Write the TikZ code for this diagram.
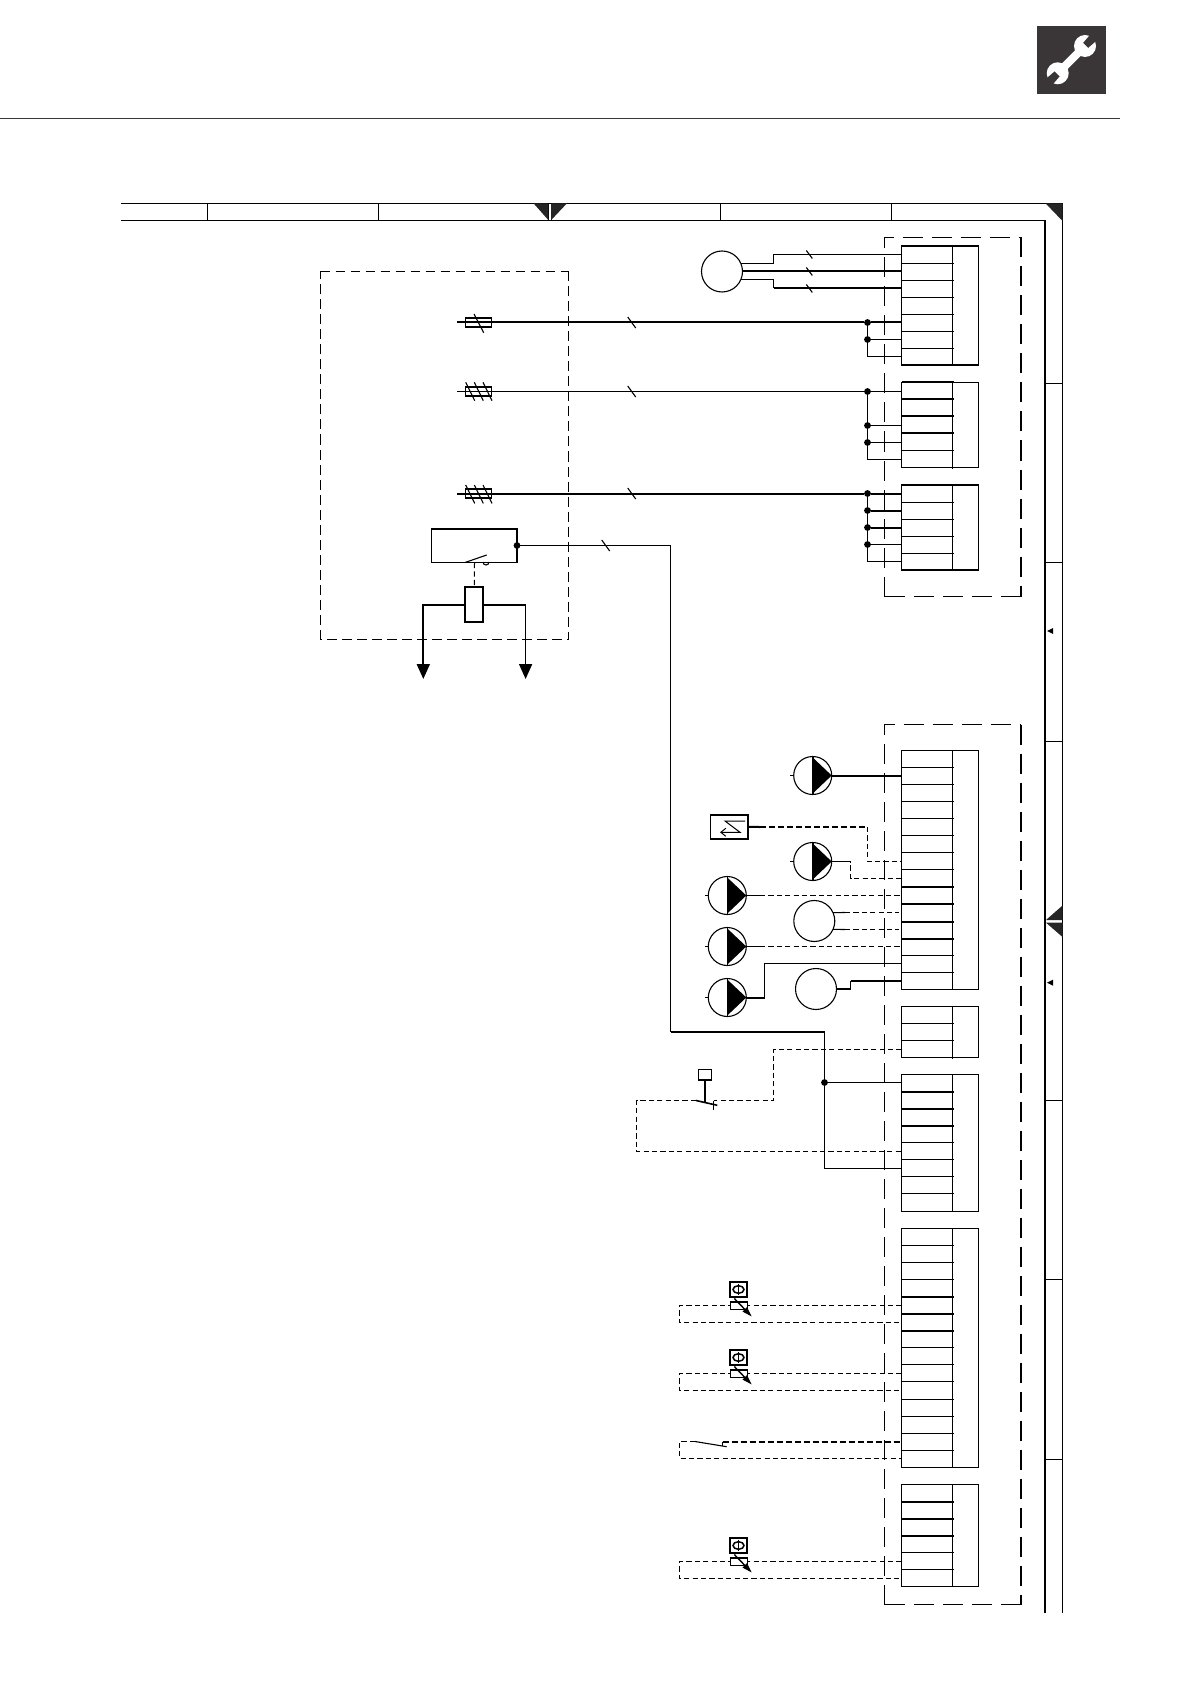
\documentclass[tikz,border=0pt]{standalone}
\usetikzlibrary{arrows.meta,calc}
\definecolor{boxdark}{HTML}{3A3536}
\definecolor{tridark}{HTML}{252525}
\tikzset{
 x=.5pt,y=-.5pt,
 w/.style={line width=.55pt,line join=miter},
 wt/.style={line width=1pt,line join=miter},
 wm/.style={line width=.8pt,line join=miter},
 wd/.style={line width=.5pt,dash pattern=on 2.6pt off 1.6pt},
 wdt/.style={line width=1pt,dash pattern=on 3pt off 1.5pt},
 boxd/.style={line width=.55pt,dash pattern=on 10pt off 4.5pt},
 boxdt/.style={line width=1pt,dash pattern=on 10pt off 4.5pt},
 pumpc/.style={circle,draw,line width=.55pt,minimum size=19pt,inner sep=0pt,outer sep=0pt},
 motorc/.style={circle,draw,line width=.55pt,minimum size=20.5pt,inner sep=0pt,outer sep=0pt},
 dot/.style={circle,fill=black,minimum size=3.4pt,inner sep=0pt,outer sep=0pt},
 rectn/.style={rectangle,draw,line width=.55pt,inner sep=0pt,outer sep=0pt,fill=white},
 slash/.style={line width=.55pt},
 gnd/.style={-{Triangle[width=6.5pt,length=7.5pt]}},
 blockbox/.style={rectangle,draw,line width=.55pt,inner sep=0pt,outer sep=0pt,anchor=north west},
}
% name, top, rows
\newcommand\tblock[3]{%
 \pgfmathsetmacro\tbh{round(#3*17.07)}%
 \node[blockbox,minimum width=38.5pt,minimum height=\tbh*.5pt] (#1) at (901.5,#2) {};
 \draw[line width=.55pt] (952.5,#2) -- (952.5,{#2+\tbh+1});
 \pgfmathtruncatemacro\tblast{#3-1}%
 \foreach \k in {1,...,\tblast} \draw[line width=.55pt] (901.5,{floor(#2+\k*17.07)+.5}) -- (954,{floor(#2+\k*17.07)+.5});
 \foreach \k in {1,...,#3} \coordinate (#1-\k) at (901.5,{floor(#2+(\k-.5)*17.07)+.5});
}
\newcommand\tthick[2]{\foreach \k in {#2} \draw[line width=1pt] (901.5,{floor(#1+\k*17.07)+.5}) -- (954,{floor(#1+\k*17.07)+.5});}
% pump: name, cx, cy
\newcommand\pump[3]{%
 \node[pumpc] (#1) at (#2,#3) {};
 \fill[black] ($(#1.center)+(.5,-17.5)$) -- (#1.east) -- ($(#1.center)+(.5,17.5)$) -- cycle;
 \draw[line width=.8pt] (#1.north) -- (#1.south);
 \coordinate (#1s) at ($(#1.west)+(-3.5,0)$);
 \draw[wm] (#1s) -- (#1.west);
}
% slash across a wire: centre x,y
\newcommand\wslash[2]{\draw[slash] ({#1-4},{#2-5.5}) -- ({#1+4},{#2+5.5});}
\newcommand\sslash[2]{\draw[slash] ({#1-3},{#2-4}) -- ({#1+3},{#2+4});}
% temperature sensor: name, y1, pin1, pin2
\newcommand\tsens[4]{%
 \coordinate (#1l) at (679.5,#2);
 \draw[wd] (#3) -- (#1l) |- (#4);
 \node[rectn,minimum width=8.7pt,minimum height=3.7pt,line width=.7pt] (#1r) at (739,#2) {};
 \node[rectn,minimum width=8.2pt,minimum height=7.8pt,line width=.9pt] (#1q) at (738.5,{#2-16}) {};
 \draw[line width=.75pt] (#1q) ellipse [x radius=5.5,y radius=3.8];
 \draw[line width=.75pt] ($(#1q)+(0,-5.5)$) -- ($(#1q)+(0,5.5)$);
 \draw[line width=.7pt,-{Triangle[width=3pt,length=5pt]}] (734.3,{#2-7}) -- (751.7,{#2+11});
}
\begin{document}
\begin{tikzpicture}
\useasboundingbox (0,0) rectangle (1191,1684);
\fill[white] (0,0) rectangle (1191,1684);

% header rule and tool icon
\draw[line width=.55pt,color=boxdark] (0,118.5) -- (1120,118.5);
\fill[boxdark] (1037,26) rectangle (1106,93.7);
\draw[white,line width=4pt] (1085,46) -- (1057.7,73.3);
\fill[white] (1085,46) circle [radius=11];
\fill[white] (1057.7,73.3) circle [radius=11];
\fill[boxdark] (1088.2,47.8) -- (1083.2,42.8) -- (1091.7,32.9) -- (1098.1,39.3) -- cycle;
\fill[boxdark] (1054.5,71.5) -- (1059.5,76.5) -- (1051,86.4) -- (1044.6,80) -- cycle;

% frame
\draw[w] (121,203.5) -- (1062.5,203.5) -- (1062.5,1613.3);
\draw[line width=.7pt] (121,220.5) -- (1045,220.5);
\draw[line width=1.1pt] (1045,220.5) -- (1045,1613.3);
\foreach \x in {207.5,378.5,548.5,551.5,720.5,891.5} \draw[w] (\x,203.5) -- (\x,221.5);
\foreach \y in {383.5,562.5,741.5,1100.5,1279.5,1459.5} \draw[w] (1045,\y) -- (1062.5,\y);
\fill[tridark] (533.5,203.3) -- (548.3,203.3) -- (548.3,220) -- cycle;
\fill[tridark] (551.2,203.3) -- (567,203.3) -- (551.2,220) -- cycle;
\fill[tridark] (1045.5,203.3) -- (1062.5,203.3) -- (1062.5,221) -- cycle;
\fill[tridark] (1046,920) -- (1062.5,905.5) -- (1062.5,920) -- cycle;
\fill[tridark] (1046,922.7) -- (1062.5,922.7) -- (1062.5,937) -- cycle;
\foreach \y in {631,982.7} \fill[black] (1047,\y) -- (1053,{\y-3}) -- (1053,{\y+3}) -- cycle;

% dashed enclosures
\draw[boxd] (884.5,596.5) -- (884.5,237.5) -- (1021,237.5);
\draw[boxdt] (1021,237.5) -- (1021,596.5);
\draw[boxd] (1021,596.5) -- (884.5,596.5);
\draw[boxd] (884.5,1604.5) -- (884.5,724.5) -- (1021,724.5);
\draw[boxdt] (1021,724.5) -- (1021,1604.5);
\draw[boxd] (1021,1604.5) -- (884.5,1604.5);
\draw[line width=.55pt,dash pattern=on 5pt off 2.5pt] (320.5,639.5) -- (320.5,271.5);
\draw[line width=.8pt,dash pattern=on 4.5pt off 3pt] (320.5,271.5) -- (568.5,271.5);
\draw[line width=.55pt,dash pattern=on 5pt off 2.5pt] (568.5,271.5) -- (568.5,639.5) -- (320.5,639.5);

% terminal blocks
\tblock{ba}{246}{7}
\tblock{bb}{382.7}{5} \tthick{382.7}{0,1,2,3}
\tblock{bc}{485}{5}
\tblock{bd}{750.3}{14} \tthick{750.3}{8,9,10,11}
\tblock{be}{1006.5}{3}
\tblock{bf}{1074.3}{8} \tthick{1074.3}{1,2,3}
\tblock{bg}{1228.3}{14} \tthick{1228.3}{4,5,6}
\tblock{bh}{1484.3}{6} \tthick{1484.3}{1,2,3}

% motor at top right
\node[motorc] (ma) at (722,271.5) {};
\coordinate (ma1) at (773.5,254.5);
\coordinate (ma3) at (773.5,288.5);
\draw[w] (ma.24) -| (ma1) -- (ba-1);
\draw[wt] (ma.east) -- (ba-2);
\draw[w] (ma.-24) -| (ma3);
\draw[wt] (ma3) -- (ba-3);
\sslash{809.3}{254.5} \sslash{809.3}{271.5} \sslash{809.3}{288.5}

% supply lines with fuses
\coordinate (fa) at (457,322.5);
\coordinate (fb) at (457,391.5);
\coordinate (fc) at (457,493.5);
\node[dot] (da) at (867.5,322.5) {};
\node[dot] (db) at (867.5,339.5) {};
\coordinate (dc) at (867.5,356.5);
\draw[wt] (fa) -- (da) -- (ba-5);
\draw[w] (da) -- (dc) -- (ba-7);
\draw[w] (db) -- (ba-6);
\node[rectn,fill=none,minimum width=13.2pt,minimum height=4.5pt] (fua) at (478.5,322.5) {};
\draw[slash] (474,314) -- (483.7,332.7);
\wslash{631.7}{322.5}

\node[dot] (dd) at (867.5,391.5) {};
\node[dot] (de) at (867.5,425.5) {};
\node[dot] (df) at (867.5,442.5) {};
\coordinate (dg) at (867.5,459.5);
\draw[w] (fb) -- (dd) -- (bb-1);
\draw[w] (dd) -- (dg) -- (bb-5);
\draw[w] (de) -- (bb-3);
\draw[w] (df) -- (bb-4);
\node[rectn,fill=none,line width=.75pt,minimum width=13.2pt,minimum height=4.5pt] (fub) at (478.5,391.5) {};
\foreach \x in {465.7,474.3,483} \draw[slash] (\x,382.3) -- ({\x+9},400.7);
\wslash{631.7}{391.5}

\node[dot] (dh) at (867.5,493.5) {};
\node[dot] (di) at (867.5,510.5) {};
\node[dot] (dj) at (867.5,527.5) {};
\node[dot] (dk) at (867.5,544.5) {};
\coordinate (dl) at (867.5,561.5);
\draw[wt] (fc) -- (dh) -- (bc-1);
\draw[wt] (di) -- (bc-2);
\draw[wt] (dj) -- (bc-3);
\draw[w] (dk) -- (bc-4);
\draw[w] (dh) -- (dl) -- (bc-5);
\node[rectn,fill=none,minimum width=13.2pt,minimum height=4.5pt] (fuc) at (478.5,493.5) {};
\foreach \x in {465.7,474.3,483} \draw[slash] (\x,485) -- ({\x+9},503.4);
\wslash{631.7}{493.5}

% relay contact and coil
\node[rectn,fill=none,minimum width=42.75pt,minimum height=17pt] (rel) at (474.25,545.5) {};
\draw[wt] (rel.north west) -- (rel.north east) -- (rel.south east);
\node[dot] (rd) at (rel.east) {};
\draw[w] (465,562.5) -- (486.7,555);
\draw[line width=.55pt] (483,562) arc [start angle=180,end angle=0,radius=3];
\node[rectn,line width=1pt,minimum width=9pt,minimum height=17.3pt] (coil) at (474.3,604.7) {};
\draw[wd] (474.5,563) -- (coil.north);
\coordinate (ga) at (423.3,679);
\coordinate (gb) at (525.6,679);
\draw[wt,gnd] (coil.west) -| (ga);
\draw[wm,gnd] (coil.east) -| (gb);

% long feed from relay
\coordinate (ra) at (670.5,545.5);
\coordinate (rb) at (670.5,1032);
\coordinate (rc) at (824.5,1032);
\node[dot] (rj) at (824.5,1082.5) {};
\coordinate (rk) at (824.5,1168.5);
\draw[w] (rd) -- (ra) -- (rb);
\draw[wt] (rb) -- (rc);
\draw[w] (rc) -- (rk) -- (bf-6);
\draw[w] (rj) -- (bf-1);
\wslash{605.7}{545.5}

% pumps and circles
\pump{pa}{812.7}{775.5}
\pump{pb}{812.7}{861.5}
\pump{pc}{727.3}{895.5}
\pump{pd}{727.3}{946.5}
\pump{pe}{727.3}{997.5}
\node[motorc] (cf) at (814.3,921) {};
\node[motorc] (cg) at (816,989) {};

\draw[wt] (pa.east) -- (bd-2);

% remote sensor box
\node[rectn,minimum width=18.85pt,minimum height=12.15pt] (sb) at (729.15,826.9) {};
\draw[wt] (sb.north west) -- (sb.north east) (sb.south west) -- (sb.south east);
\draw[line width=.5pt,-{Straight Barb[width=4pt,length=2.5pt]}] (745,821) -- (725,821) -- (740,832.3) -- (720,832.3);
\coordinate (sa) at (760,827);
\coordinate (sc) at (867.5,827);
\draw[wt] (sb.east) -- (sa);
\draw[wdt] (sa) -- (sc);
\draw[wd] (sc) |- (bd-7);

\coordinate (pb1) at (846,861.5);
\coordinate (pb2) at (850.5,861.5);
\draw[w] (pb.east) -- (pb1);
\draw[wd] (pb1) -- (pb2) |- (bd-8);
\coordinate (pc1) at (760,895.5);
\draw[w] (pc.east) -- (pc1);
\draw[wd] (pc1) -- (bd-9);
\coordinate (cf1) at (845,912.5);
\coordinate (cf2) at (845,929.5);
\draw[w] (cf.24) -- (cf1);
\draw[w] (cf.-24) -- (cf2);
\draw[wd,shorten >=1.2pt] (cf1) -- (bd-10);
\draw[wd,shorten >=1.2pt] (cf2) -- (bd-11);
\coordinate (pd1) at (760,946.5);
\draw[w] (pd.east) -- (pd1);
\draw[wd] (pd1) -- (bd-12);
\coordinate (pe1) at (764.5,997.5);
\coordinate (pe2) at (764.5,963.5);
\draw[wt] (pe.east) -- (pe1);
\draw[w] (pe1) -- (pe2) -- (bd-13);
\coordinate (cg1) at (850.5,989);
\coordinate (cg2) at (850.5,980.5);
\draw[w] (cg.east) -- (cg1);
\draw[w] (cg1) -- (cg2);
\draw[wt] (cg2) -- (bd-14);

% push-button contact
\coordinate (ea) at (773.5,1049.5);
\coordinate (eb) at (773.5,1100.5);
\coordinate (ec) at (713.5,1100.5);
\coordinate (ed) at (696,1100.5);
\coordinate (ee) at (636.5,1100.5);
\coordinate (ef) at (636.5,1151.5);
\draw[wd] (be-3) -- (ea) -- (eb) -- (ec);
\draw[w] (ec) -- ++(0,9);
\draw[wm] (ed) -- (717.3,1105.3);
\draw[wd] (ed) -- (ee) -- (ef) -- (bf-5);
\node[rectn,minimum width=6.7pt,minimum height=5.3pt] (btn) at (705,1074.7) {};
\draw[line width=1.1pt] (btn.south) -- (705,1101.7);

% temperature sensors
\tsens{ta}{1305.5}{bg-5}{bg-6}
\tsens{tb}{1373.5}{bg-9}{bg-10}
\tsens{td}{1561.5}{bh-5}{bh-6}

% contact to terminal
\coordinate (ka) at (679.5,1441.5);
\coordinate (kb) at (695,1441.5);
\coordinate (kc) at (722.5,1441.5);
\draw[wd] (kb) -- (ka) |- (bg-14);
\draw[wdt] (kc) -- (bg-13);
\draw[w] (kb) -- (726.7,1446.7);
\draw[wm] (kc) -- ++(0,4.5);

\end{tikzpicture}
\end{document}
